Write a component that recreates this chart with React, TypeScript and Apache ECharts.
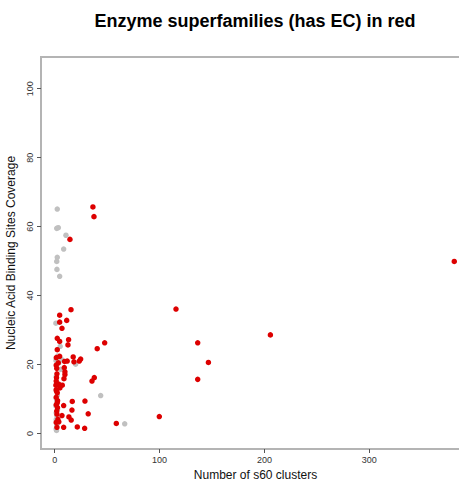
import React, { useEffect, useRef } from "react";
import * as echarts from "echarts";

const titleText = "Enzyme superfamilies (has EC) in red";
const xAxisName = "Number of s60 clusters";
const yAxisName = "Nucleic Acid Binding Sites Coverage";
const xTicks = [0, 100, 200, 300];
const yTicks = [0, 20, 40, 60, 80, 100];

// Non-enzyme superfamilies (grey): [s60 clusters, coverage]
const otherPoints: number[][] = [
  [2.5, 65.1], [2, 59.5], [3.5, 59.7], [10.8, 57.5], [8.6, 53.5], [2.5, 51.1],
  [2, 49.9], [2.2, 47.6], [4.8, 45.6], [1.2, 32], [5.3, 25.3], [1.3, 21.2],
  [6.8, 21.4], [20, 20.1], [5.7, 18.6], [43.9, 11], [66.8, 2.8], [1.5, 16.5],
  [2, 14.8], [1.5, 12.5], [2.5, 11], [1.5, 10.2], [2, 9.6], [1.3, 8], [2.8, 7],
  [1.5, 6], [2.2, 5], [1.5, 4], [2, 2.5], [1.5, 1.3], [1.8, 0.9], [3, 22.5],
  [4, 20.5],
];

// Enzyme superfamilies (has EC, red): [s60 clusters, coverage]
const enzymePoints: number[][] = [
  [36.5, 65.7], [37.5, 62.9], [14.6, 56.3], [381, 49.9], [115.7, 36.1],
  [15.6, 35.9], [4.8, 34.3], [4.8, 32.3], [11.5, 32.8], [7, 30.5], [2.5, 27.6],
  [4.8, 26.7], [13.3, 27.2], [12.7, 25.7], [2.5, 24.3], [47.7, 26.3],
  [136.4, 26.3], [205.7, 28.6], [40.6, 24.6], [146.6, 20.6], [136.4, 15.7],
  [4.8, 22.4], [1.6, 22], [9.5, 20.9], [12, 21], [18.4, 20.8], [17.7, 22.2],
  [24.8, 21.6], [23.5, 21], [1.5, 19.8], [2, 18.9], [9.2, 19.1], [9.8, 17.9],
  [2.2, 17.3], [9.8, 17.1], [1.8, 16.2], [8.9, 15.9], [37.8, 16.2],
  [35.6, 15.2], [1.5, 15.2], [3.9, 14.3], [7.3, 14], [5, 13.2], [1.5, 12.7],
  [2.5, 11.8], [1.8, 12.3], [2.5, 8.9], [1.5, 8.3], [8.6, 8.1], [16.8, 9.3],
  [28.9, 9.4], [2.8, 9.5], [32, 5.7], [16.5, 6.8], [2.2, 5.6], [7, 5.2],
  [13.6, 4.8], [15.8, 3.9], [3.1, 4.1], [1.5, 3.2], [4, 3.4], [21.6, 1.9],
  [28.6, 1.5], [8.6, 1.8], [2.2, 1.8], [99.8, 4.9], [58.8, 2.9], [2, 6.5],
  [1.5, 10.5], [3.5, 20.5], [1.2, 14], [2.7, 7.5],
];

const FONT = "'Liberation Sans', Arial, Helvetica, sans-serif";

export default function App() {
  const ref = useRef<HTMLDivElement>(null);
  useEffect(() => {
    if (!ref.current) return;
    const chart = echarts.init(ref.current, null, { renderer: "svg" });
    chart.setOption({
      animation: false,
      backgroundColor: "#ffffff",
      textStyle: { fontFamily: FONT },
      graphic: [
        {
          type: "text",
          x: 255,
          y: 21,
          style: {
            text: titleText,
            fontSize: 18,
            fontWeight: "bold",
            fontFamily: FONT,
            fill: "#000",
            textAlign: "center",
            textVerticalAlign: "middle",
          },
        },
      ],
      grid: {
        left: 41,
        top: 57,
        width: 429,
        height: 392,
        outerBoundsMode: "none",
        containLabel: false,
        show: true,
        borderColor: "#b4b4b4",
        borderWidth: 2,
        backgroundColor: "transparent",
      },
      xAxis: {
        type: "value",
        min: -13,
        max: 396,
        splitLine: { show: false },
        axisLine: { show: false, onZero: false },
        axisTick: {
          show: true,
          customValues: xTicks,
          length: 4,
          lineStyle: { color: "#555" },
        },
        axisLabel: {
          customValues: xTicks,
          fontSize: 9,
          color: "#333",
          margin: 6,
          fontFamily: FONT,
        },
        name: xAxisName,
        nameLocation: "middle",
        nameGap: 17,
        nameTextStyle: { fontSize: 12, color: "#111", fontFamily: FONT },
      },
      yAxis: {
        type: "value",
        min: -4.5,
        max: 109.2,
        splitLine: { show: false },
        axisLine: { show: false, onZero: false },
        axisTick: {
          show: true,
          customValues: yTicks,
          length: 4,
          lineStyle: { color: "#555" },
        },
        axisLabel: {
          customValues: yTicks,
          rotate: 90,
          fontSize: 9,
          color: "#333",
          margin: 7,
          fontFamily: FONT,
        },
        name: yAxisName,
        nameLocation: "middle",
        nameGap: 18,
        nameTextStyle: { fontSize: 12, color: "#111", fontFamily: FONT },
      },
      series: [
        {
          type: "scatter",
          data: otherPoints,
          symbol: "circle",
          symbolSize: 5.5,
          itemStyle: { color: "#c0c0c0", opacity: 1 },
        },
        {
          type: "scatter",
          data: enzymePoints,
          symbol: "circle",
          symbolSize: 5.5,
          itemStyle: { color: "#dd0000", opacity: 1 },
        },
      ],
    });
    return () => chart.dispose();
  }, []);
  return (
    <div
      ref={ref}
      style={{ position: "absolute", left: 0, top: 0, width: 459, height: 481 }}
    />
  );
}
